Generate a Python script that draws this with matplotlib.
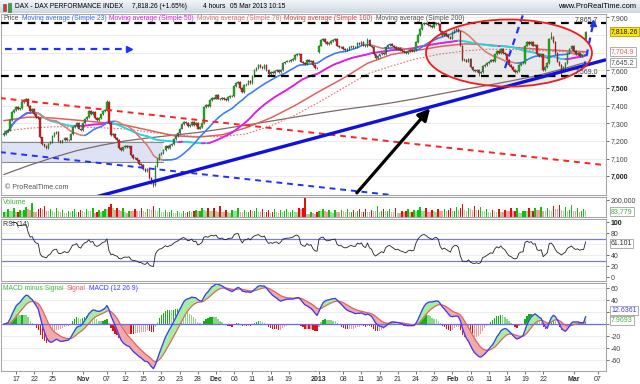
import numpy as np
import pandas as pd
import matplotlib
matplotlib.use("Agg")
import matplotlib.pyplot as plt
from matplotlib.patches import Ellipse, Rectangle
from matplotlib.collections import LineCollection

plt.rcParams['font.family'] = ['Liberation Sans', 'DejaVu Sans']

# ---------------- data (4-hour bars, 3 per trading day, Oct 15 2012 -> Mar 5 2013) -------------
CLOSE = [
    7240, 7255, 7262, 7320, 7365, 7377, 7395, 7380, 7384, 7420, 7430, 7437,
    7400, 7370, 7380, 7350, 7335, 7328, 7220, 7180, 7173, 7160, 7185, 7196,
    7230, 7245, 7249, 7200, 7195, 7203, 7215, 7205, 7208, 7240, 7280, 7285,
    7300, 7270, 7260, 7300, 7325, 7335, 7370, 7350, 7363, 7330, 7320, 7328,
    7350, 7370, 7377, 7420, 7300, 7232, 7240, 7215, 7205, 7160, 7150, 7163,
    7170, 7165, 7169, 7120, 7105, 7101, 7090, 7070, 7065, 7040, 7030, 7043,
    6990, 6960, 6950, 7060, 7100, 7124, 7130, 7150, 7172, 7160, 7175, 7183,
    7210, 7230, 7244, 7270, 7295, 7309, 7300, 7285, 7292, 7310, 7290, 7300,
    7270, 7280, 7300, 7390, 7405, 7399, 7430, 7445, 7440, 7460, 7440, 7435,
    7445, 7435, 7434, 7450, 7455, 7455, 7510, 7530, 7534, 7500, 7475, 7517,
    7520, 7540, 7530, 7570, 7600, 7614, 7630, 7620, 7615, 7630, 7600, 7580,
    7590, 7585, 7597, 7600, 7590, 7603, 7640, 7650, 7654, 7655, 7660, 7665,
    7685, 7695, 7690, 7650, 7640, 7636, 7660, 7650, 7655, 7630, 7615, 7612,
    7740, 7770, 7778, 7760, 7750, 7756, 7765, 7770, 7776, 7740, 7730, 7732,
    7720, 7715, 7720, 7730, 7735, 7730, 7730, 7755, 7750, 7760, 7740, 7735,
    7770, 7740, 7730, 7690, 7670, 7680, 7690, 7700, 7692, 7730, 7745, 7750,
    7740, 7730, 7720, 7725, 7715, 7710, 7705, 7700, 7710, 7715, 7710, 7715,
    7760, 7800, 7835, 7860, 7870, 7865, 7855, 7850, 7845, 7860, 7870, 7862,
    7820, 7800, 7810, 7800, 7790, 7780, 7815, 7830, 7833, 7820, 7740, 7660,
    7660, 7650, 7664, 7620, 7600, 7595, 7600, 7585, 7590, 7625, 7630, 7640,
    7650, 7660, 7655, 7690, 7710, 7700, 7720, 7700, 7690, 7660, 7630, 7620,
    7600, 7590, 7595, 7630, 7640, 7640, 7740, 7760, 7750, 7760, 7740, 7745,
    7690, 7680, 7690, 7600, 7620, 7640, 7780, 7790, 7760, 7700, 7650, 7630,
    7600, 7620, 7640, 7700, 7720, 7740, 7710, 7690, 7700, 7680, 7690, 7690,
    7818,
]
FIRST_OPEN = 7235
OPEN_GAPS = {156: 7705, 288: 7776}
HIGH_EXT = {11: 7445, 51: 7432, 180: 7785, 271: 7815}
LOW_EXT = {74: 6938, 235: 7570, 276: 7575}

VOLUME_K = [
    60, 55, 90, 75, 70, 105, 55, 60, 85, 70, 80, 120, 95, 85, 170, 60, 55, 90,
    110, 95, 130, 70, 65, 95, 75, 60, 100, 65, 55, 80, 50, 45, 70, 60, 70, 95,
    55, 60, 85, 65, 60, 90, 75, 70, 100, 50, 55, 80, 60, 70, 95, 90, 120, 150,
    100, 85, 110, 80, 70, 100, 55, 50, 75, 70, 65, 95, 75, 70, 100, 70, 60, 95,
    90, 85, 130, 85, 70, 100, 60, 55, 85, 55, 60, 80, 50, 45, 70, 55, 50, 75,
    50, 55, 70, 60, 65, 85, 70, 75, 100, 80, 70, 105, 75, 70, 110, 65, 60, 130,
    60, 55, 85, 55, 50, 80, 70, 65, 100, 60, 55, 85, 55, 60, 80, 70, 75, 100,
    60, 55, 90, 55, 60, 85, 50, 55, 95, 55, 50, 80, 60, 65, 90, 55, 60, 85,
    60, 55, 100, 90, 110, 225, 40, 35, 55, 45, 40, 60, 75, 70, 95, 65, 60, 85,
    55, 50, 80, 60, 55, 85, 65, 60, 90, 55, 60, 85, 60, 65, 90, 55, 60, 95,
    60, 55, 85, 75, 70, 130, 60, 65, 90, 65, 70, 95, 60, 55, 100, 50, 45, 70,
    60, 65, 90, 55, 60, 85, 70, 85, 115, 75, 70, 100, 60, 55, 85, 65, 60, 90,
    70, 65, 95, 75, 80, 110, 70, 75, 120, 80, 110, 150, 85, 75, 110, 90, 85, 125,
    80, 85, 120, 70, 65, 95, 60, 55, 85, 65, 60, 90, 60, 55, 85, 75, 70, 100,
    65, 70, 105, 50, 45, 70, 75, 70, 105, 70, 75, 100, 85, 80, 115, 70, 65, 110,
    80, 75, 130, 95, 90, 140, 80, 75, 115, 75, 80, 140, 70, 65, 100, 60, 65, 95,
    84,
]

MA_DAYS = [0, 4, 8, 12, 16, 20, 24, 28, 32, 36, 40, 44, 48, 52, 56, 60, 64, 68, 72, 76, 80, 84, 88, 92, 96]
MA78 = [7315, 7335, 7330, 7318, 7305, 7290, 7260, 7230, 7222, 7235, 7275, 7330, 7400, 7480, 7555, 7640,
        7690, 7712, 7735, 7750, 7745, 7730, 7720, 7712, 7705]
MA100 = [7255, 7272, 7280, 7280, 7275, 7268, 7250, 7235, 7225, 7225, 7240, 7285, 7345, 7420, 7500, 7580,
         7625, 7665, 7692, 7710, 7720, 7718, 7712, 7706, 7700]
MA200 = [7010, 7060, 7105, 7145, 7175, 7200, 7218, 7233, 7248, 7268, 7290, 7312, 7335, 7357, 7378, 7396,
         7416, 7440, 7466, 7492, 7516, 7542, 7570, 7606, 7645]

XTICK_DAYS = [2, 5, 8, 13, 17, 20, 23, 26, 29, 32, 35, 38, 41, 44, 47, 52, 56, 59, 62, 65, 68, 71, 74, 77,
              80, 83, 86, 89, 94, 98]
XTICK_LABELS = ['17', '22', '25', 'Nov', '07', '12', '15', '20', '23', '28', 'Dec', '06', '11', '14', '19',
                '2013', '08', '11', '16', '21', '24', '29', 'Feb', '06', '11', '14', '19', '22', 'Mar', '07']
BOLD_LABELS = {'Nov', 'Dec', '2013', 'Feb', 'Mar'}

RES_HIGH = 7865.7
SUP_LOW = 7569.0
LAST_PRICE = '7,818.26'
LAST_MA78 = 7704.9
LAST_MA200 = 7645.2
LAST_VOLUME = '83,779'
LAST_RSI = 61.101
LAST_HIST = '7.9693'

# ---------------- derived -------------
close = np.array(CLOSE, float)
N = len(close)
x = np.arange(N) / 3.0
opn = np.concatenate([[FIRST_OPEN], close[:-1]])
for k, v in OPEN_GAPS.items():
    opn[k] = v
hi = np.maximum(opn, close) + 5
lo = np.minimum(opn, close) - 5
for k, v in HIGH_EXT.items():
    hi[k] = v
for k, v in LOW_EXT.items():
    lo[k] = v
s = pd.Series(close)
ma23 = s.rolling(23, min_periods=1).mean().values
ma50 = s.rolling(50, min_periods=1).mean().values
delta = s.diff()
up = delta.clip(lower=0).ewm(alpha=1/14, adjust=False).mean()
dn = (-delta.clip(upper=0)).ewm(alpha=1/14, adjust=False).mean()
rsi = (100 - 100 / (1 + up / dn)).values
ema12 = s.ewm(span=12, adjust=False).mean()
ema26 = s.ewm(span=26, adjust=False).mean()
macd = (ema12 - ema26).values
signal = pd.Series(macd).ewm(span=9, adjust=False).mean().values
hist = macd - signal
vol = np.array(VOLUME_K, float) * 1000

# ---------------- layout helpers -------------
W, H = 640, 384
fig = plt.figure(figsize=(6.4, 3.84), dpi=100)
fig.patch.set_facecolor('white')


def axpx(l, t, r, b):
    return fig.add_axes([l / W, 1 - b / H, (r - l) / W, (b - t) / H])


def fy(y):
    return 1 - y / H


XL = (-0.48, 99.36)
SP = '#a8a8a8'
FS = 5.0


def style(ax):
    ax.set_xlim(*XL)
    for sp in ax.spines.values():
        sp.set_color(SP)
        sp.set_linewidth(0.8)
    ax.yaxis.tick_right()
    ax.tick_params(axis='y', labelsize=FS, length=2, pad=1.5, colors='#555555', width=0.6)
    ax.tick_params(axis='x', bottom=False, labelbottom=False)
    for lab in ax.get_yticklabels():
        lab.set_color('#404040')


def seq_text(x0, y0, parts, size=4.9, gap=3.0):
    r = fig.canvas.get_renderer()
    xx = x0
    for txt, col in parts:
        t = fig.text(xx / W, fy(y0), txt, color=col, fontsize=size, va='center', ha='left')
        bb = t.get_window_extent(renderer=r)
        xx += bb.width + gap


def slope_line(ax, xs, ys, cup, cdn, lw, z):
    pts = np.column_stack([xs, ys])
    segs = np.stack([pts[:-1], pts[1:]], axis=1)
    cols = [cup if d >= 0 else cdn for d in np.diff(ys)]
    ax.add_collection(LineCollection(segs, colors=cols, linewidths=lw, zorder=z, capstyle='round'))


def rbox(y, txt, fc='white', ec='#a0a0a0', tc='#404040'):
    fig.text(611 / W, fy(y), txt, fontsize=FS, color=tc, va='center', ha='left',
             bbox=dict(boxstyle='square,pad=0.15', fc=fc, ec=ec, lw=0.6))

# ---------------- header -------------
hax = axpx(0, 0, 640, 13)
grad = np.linspace(0, 1, 20)[:, None]
hax.imshow(grad, aspect='auto', cmap=matplotlib.colors.LinearSegmentedColormap.from_list(
    'g', ['#f2f5f8', '#cdd8e2']), extent=(0, 1, 0, 1))
hax.set_axis_off()
fig.add_artist(Rectangle((3 / W, fy(11)), 3 / W, 7 / H, fc='#e03030', ec='#505050', lw=0.4, transform=fig.transFigure))
fig.add_artist(Rectangle((8 / W, fy(12)), 3 / W, 9 / H, fc='#30b030', ec='#505050', lw=0.4, transform=fig.transFigure))
HF = 4.8
fig.text(15 / W, fy(7), 'DAX - DAX PERFORMANCE INDEX', fontsize=HF, va='center')
fig.text(132 / W, fy(7), f'{LAST_PRICE} (+1.65%)', fontsize=HF, va='center')
fig.text(203 / W, fy(7), '4 hours', fontsize=HF, va='center')
fig.text(230 / W, fy(7), '05 Mar 2013 10:15', fontsize=HF, va='center')
fig.text(636 / W, fy(7), 'www.ProRealTime.com', fontsize=5.4, va='center', ha='right')

# ---------------- price panel -------------
ax = axpx(1, 14, 606, 195)
style(ax)
YL = (6894, 7919)
ax.set_ylim(*YL)
ticks = list(range(7000, 8000, 100))
ax.set_yticks([t for t in ticks if t not in (7700, 7800)])
ax.set_yticklabels([f'{t:,}' for t in ticks if t not in (7700, 7800)])
for lab in ax.get_yticklabels():
    if lab.get_text() in ('7,500', '7,000'):
        lab.set_fontweight('bold')
        lab.set_color('#202020')
for t in ticks:
    ax.axhline(t, color='#e4e4e4', lw=0.5, zorder=0)


def px2d(p):
    return (p - 3.9) / 6.06

# shaded box
ax.add_patch(Rectangle((XL[0], 7083), px2d(163) - XL[0], 7196 - 7083, fc='#dde3f5', ec='none', zorder=0.5))
ax.plot([XL[0], px2d(163)], [7196, 7196], color='#8a8a8a', lw=0.8, zorder=0.6)
ax.plot([XL[0], px2d(163)], [7083, 7083], color='#8a8a8a', lw=0.8, zorder=0.6)

# ellipse fill
ecx, ecy = px2d(509), 7698
ax.add_patch(Ellipse((ecx, ecy), 166 / 6.06, 380, fc='#d9d9d9', ec='none', alpha=0.55, zorder=0.7))

# moving averages
ax.plot(MA_DAYS, MA200, color='#7b6a6a', lw=0.9, zorder=2)
ax.plot(MA_DAYS, MA100, color='#e07070', lw=0.8, ls=(0, (1.5, 1.5)), zorder=2)
ax.plot(MA_DAYS, MA78, color='#e06060', lw=1.1, zorder=2)
slope_line(ax, x, ma50, '#e020e0', '#20d8e0', 1.3, 2.1)
slope_line(ax, x, ma23, '#3a7cff', '#e07a70', 1.1, 2.2)

# candles
upc = close >= opn
ax.vlines(x, lo, hi, color='#303030', lw=0.5, zorder=3)
body_lo = np.minimum(opn, close)
body_h = np.maximum(np.abs(close - opn), 1.5)
ax.bar(x[upc], body_h[upc], bottom=body_lo[upc], width=0.26, color='#1fb21f', edgecolor='#1a5a1a', lw=0.25, zorder=3.1)
ax.bar(x[~upc], body_h[~upc], bottom=body_lo[~upc], width=0.26, color='#d82020', edgecolor='#5a1a1a', lw=0.25, zorder=3.1)

# horizontal black dashed levels
for lvl in (RES_HIGH, SUP_LOW):
    ax.axhline(lvl, color='black', lw=1.6, ls=(0, (3.5, 2.5)), zorder=4)
ax.text(px2d(598), RES_HIGH + 24, f'{RES_HIGH:,.1f}', fontsize=FS, ha='right', va='center', color='#404040', zorder=6)
ax.text(px2d(598), SUP_LOW + 24, f'{SUP_LOW:,.1f}', fontsize=FS, ha='right', va='center', color='#404040', zorder=6)

# red dashed downtrend line
ax.plot([px2d(0), px2d(607)], [7443, 7062], color='#ff2020', lw=1.4, ls=(0, (3, 2.5)), zorder=4)
# blue dashed lower line
ax.plot([px2d(0), px2d(390)], [7137, 6895], color='#2030ff', lw=1.4, ls=(0, (3, 2.5)), zorder=4)
# blue dashed arrow (left)
ax.plot([px2d(5), px2d(128)], [7719, 7719], color='#2030ff', lw=1.6, ls=(0, (3, 2.5)), zorder=4)
ax.plot([px2d(129)], [7719], marker='>', color='#2030ff', ms=4, zorder=4)
# thick blue uptrend support
ax.plot([px2d(97), px2d(606)], [6885, 7660], color='#1010e0', lw=2.4, zorder=4.5, solid_capstyle='butt')
# black arrow
ax.annotate('', xy=(px2d(432), 7397), xytext=(px2d(355), 6894),
            arrowprops=dict(arrowstyle='-|>,head_width=0.35,head_length=0.7', color='black', lw=2.3), zorder=6)
# blue dashed lines in the ellipse
ax.plot([px2d(505), px2d(523)], [7613, 7915], color='#2030ff', lw=1.6, ls=(0, (3, 2.5)), zorder=5)
ax.plot([px2d(584), px2d(593)], [7613, 7860], color='#2030ff', lw=1.6, ls=(0, (3, 2.5)), zorder=5)
ax.plot([px2d(593.5)], [7868], marker='^', color='#2030ff', ms=4, zorder=5)
# ellipse edge
ax.add_patch(Ellipse((ecx, ecy), 166 / 6.06, 380, fc='none', ec='#ee1c1c', lw=1.3, zorder=5))

ax.text(0.006, 0.035, '\u00a9 ProRealTime.com', transform=ax.transAxes, fontsize=FS, color='#505050', zorder=7)

seq_text(3, 19, [('Price', '#505050'),
                 ('Moving average (Simple 23)', '#3a6cff'),
                 ('Moving average (Simple 50)', '#e020e0'),
                 ('Moving average (Simple 78)', '#e07070'),
                 ('Moving average (Simple 100)', '#e04040'),
                 ('Moving average (Simple 200)', '#555555')])


def pry(p):
    return 14 + (YL[1] - p) / (YL[1] - YL[0]) * 181

rbox(pry(7818.26), LAST_PRICE, fc='#ffe414', ec='#b0a000', tc='#202020')
rbox(pry(LAST_MA78), f'{LAST_MA78:,.1f}', tc='#e06060')
rbox(pry(LAST_MA200), f'{LAST_MA200:,.1f}', tc='#505050')

# ---------------- volume -------------
vax = axpx(1, 197, 606, 217)
style(vax)
vax.set_ylim(0, 235000)
vax.set_yticks([200000])
vax.set_yticklabels(['200,000'])
prev = np.concatenate([[vol[0]], vol[:-1]])
vcols = []
for i in range(N):
    if upc[i]:
        vcols.append('#10c010' if vol[i] >= prev[i] else '#98e098')
    else:
        vcols.append('#e01010' if vol[i] >= prev[i] else '#f0a0a0')
vax.bar(x, vol, width=0.24, color=vcols, zorder=2)
fig.text(3 / W, fy(202), 'Volume', fontsize=FS, color='#40b040', va='center')
rbox(211.5, LAST_VOLUME, tc='#40b040')

# ---------------- RSI -------------
rax = axpx(1, 219, 606, 281)
style(rax)
rax.set_ylim(-7.3, 106.4)
rax.set_yticks([0, 20, 40, 80, 100])
rax.set_yticklabels(['0', '20', '40', '80', '100'])
for lab in rax.get_yticklabels():
    if lab.get_text() == '100':
        lab.set_fontweight('bold')
        lab.set_color('#202020')
for g in (20, 40, 60, 80):
    rax.axhline(g, color='#e4e4e4', lw=0.5, zorder=0)
rax.axhline(70, color='#7878e8', lw=0.9, zorder=1)
rax.axhline(30, color='#7878e8', lw=0.9, zorder=1)
rax.plot(x[4:], rsi[4:], color='#202020', lw=0.6, zorder=2)
fig.text(3 / W, fy(224), 'RSI (14)', fontsize=FS, color='#303030', va='center')
rbox(219 + (106.4 - LAST_RSI) / 113.7 * 62, f'{LAST_RSI:.3f}', tc='#303030')

# ---------------- MACD -------------
max_ = axpx(1, 283, 606, 371)
style(max_)
MY = (-77.8, 68.8)
max_.set_ylim(*MY)
max_.set_yticks([-60, -40, -20, 0, 20, 40, 60])
max_.set_yticklabels(['-60', '-40', '-20', '', '', '40', '60'])
for g in (-60, -40, -20, 20, 40, 60):
    max_.axhline(g, color='#e4e4e4', lw=0.5, zorder=0)
absh = np.abs(hist)
prevh = np.concatenate([[absh[0]], absh[:-1]])
hcols = []
for i in range(N):
    if hist[i] >= 0:
        hcols.append('#10b010' if absh[i] >= prevh[i] else '#88d888')
    else:
        hcols.append('#e01010' if absh[i] >= prevh[i] else '#f09a9a')
max_.bar(x, hist, width=0.22, color=hcols, zorder=1)
max_.fill_between(x, macd, signal, where=macd >= signal, interpolate=True, color='#a8eca0', zorder=1.5)
max_.fill_between(x, macd, signal, where=macd < signal, interpolate=True, color='#f2aaa8', zorder=1.5)
max_.axhline(0, color='#6a6af0', lw=0.9, zorder=1.6)
max_.plot(x, signal, color='#e06060', lw=0.8, zorder=2)
max_.plot(x, macd, color='#3a3aff', lw=0.9, zorder=2.1)
seq_text(3, 288, [('MACD minus Signal', '#40c040'), ('Signal', '#e06060'), ('MACD (12 26 9)', '#4040ff')])

rbox(310.5, f'{macd[-1]:.4f}', tc='#4040ff')
rbox(320.5, LAST_HIST, tc='#40b040')

max_.set_xticks(XTICK_DAYS)
max_.set_xticklabels(XTICK_LABELS)
max_.tick_params(axis='x', bottom=True, labelbottom=True, labelsize=FS, length=2, pad=1.5, colors='#555555', width=0.6)
for lab in max_.get_xticklabels():
    lab.set_color('#303030')
    if lab.get_text() in BOLD_LABELS:
        lab.set_fontweight('bold')

fig.savefig('out.png', dpi=100, facecolor='white')
